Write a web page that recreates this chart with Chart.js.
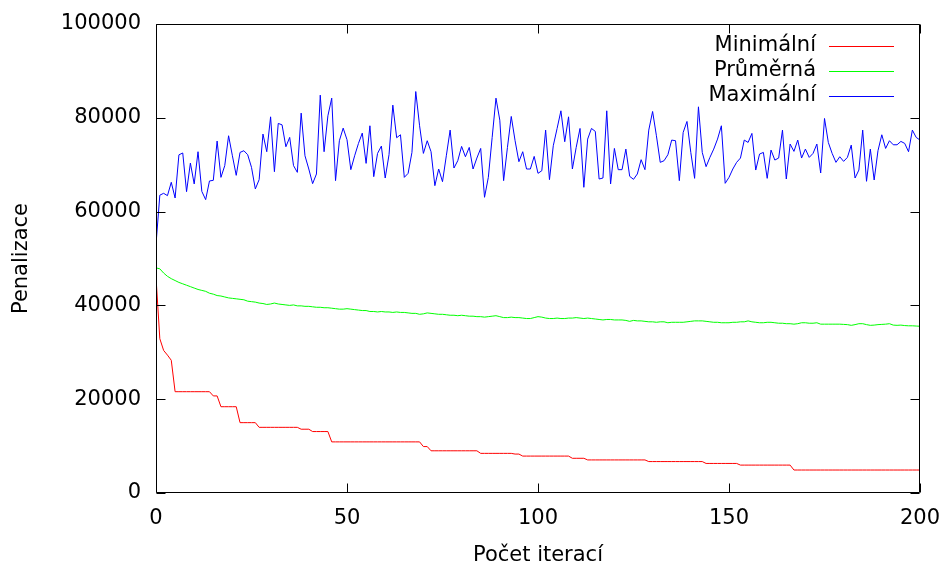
<!DOCTYPE html>
<html>
<head>
<meta charset="utf-8">
<script src="https://cdn.jsdelivr.net/npm/chart.js@4.4.1/dist/chart.umd.min.js"></script>
<style>
  html, body { margin: 0; padding: 0; background: #fff; }
  #wrap { width: 948px; height: 568px; }
</style>
</head>
<body>
<div id="wrap"><canvas id="c" width="948" height="568"></canvas></div>
<script>
// ---- data ----
const seriesNames = ["Minimální", "Průměrná", "Maximální"];
const xTicks = [0, 50, 100, 150, 200];
const yTicks = [0, 20000, 40000, 60000, 80000, 100000];

const minimal = [
  46000, 32900, 30400, 29400, 28300,
  21600, 21600, 21600, 21600, 21600, 21600, 21600, 21600, 21600, 21600,
  20700, 20700,
  18400, 18400, 18400, 18400, 18400,
  15000, 15000, 15000, 15000, 15000,
  14000, 14000, 14000, 14000, 14000, 14000, 14000, 14000, 14000, 14000, 14000,
  13600, 13600, 13600,
  13100, 13100, 13100, 13100, 13100,
  10900, 10900, 10900, 10900, 10900, 10900, 10900, 10900, 10900, 10900, 10900, 10900,
  10900, 10900, 10900, 10900, 10900, 10900, 10900, 10900, 10900, 10900, 10900, 10900,
  9900, 9900,
  9000, 9000, 9000, 9000, 9000, 9000, 9000, 9000, 9000, 9000, 9000, 9000, 9000,
  8450, 8450, 8450, 8450, 8450, 8450, 8450, 8450, 8450,
  8300, 8300,
  7870, 7870, 7870, 7870, 7870, 7870, 7870, 7870, 7870, 7870, 7870, 7870, 7870,
  7400, 7400, 7400, 7400,
  7050, 7050, 7050, 7050, 7050, 7050, 7050, 7050, 7050, 7050, 7050, 7050, 7050, 7050, 7050, 7050,
  6700, 6700, 6700, 6700, 6700, 6700, 6700, 6700, 6700, 6700, 6700, 6700, 6700, 6700, 6700,
  6300, 6300, 6300, 6300, 6300, 6300, 6300, 6300, 6300,
  5950, 5950, 5950, 5950, 5950, 5950, 5950, 5950, 5950, 5950, 5950, 5950, 5950, 5950,
  4900, 4900, 4900, 4900, 4900, 4900, 4900, 4900, 4900, 4900, 4900, 4900, 4900, 4900, 4900, 4900, 4900,
  4900, 4900, 4900, 4900, 4900, 4900, 4900, 4900, 4900, 4900, 4900, 4900, 4900, 4900, 4900, 4900, 4900
];

const average = [
  48000, 47800, 46900, 46200, 45700, 45300, 44900, 44600, 44300, 44000,
  43700, 43400, 43200, 43000, 42600, 42400, 42100, 42000, 41800, 41600,
  41500, 41400, 41300, 41200, 40900, 40800, 40700, 40500, 40400, 40200,
  40300, 40500, 40300, 40200, 40100, 40000, 40100, 39900, 39900, 39800,
  39800, 39700, 39600, 39600, 39500, 39500, 39400, 39300, 39200, 39200,
  39300, 39200, 39100, 39000, 38900, 38900, 38700, 38700, 38600, 38700,
  38600, 38600, 38500, 38600, 38500, 38500, 38400, 38300, 38300, 38100,
  38200, 38400, 38300, 38200, 38100, 38100, 38000, 37900, 37900, 37800,
  37900, 37800, 37700, 37700, 37600, 37600, 37500, 37600, 37700, 37800,
  37600, 37400, 37400, 37500, 37400, 37400, 37300, 37200, 37200, 37400,
  37600, 37500, 37300, 37200, 37200, 37300, 37200, 37200, 37300, 37300,
  37400, 37300, 37200, 37300, 37200, 37100, 37000, 36900, 37000, 37000,
  36900, 36900, 36900, 36800, 36600, 36800, 36700, 36700, 36600, 36500,
  36500, 36400, 36500, 36500, 36300, 36400, 36400, 36400, 36400, 36500,
  36600, 36700, 36700, 36700, 36600, 36500, 36400, 36400, 36300, 36300,
  36300, 36400, 36400, 36500, 36500, 36700, 36500, 36400, 36300, 36300,
  36400, 36400, 36300, 36200, 36200, 36100, 36100, 36000, 36100, 36300,
  36300, 36200, 36200, 36300, 36000, 36000, 36000, 36000, 36000, 36000,
  35950, 35900, 35750, 35900, 36100, 36100, 35900, 35750, 35800, 35900,
  35950, 36000, 36100, 35800, 35750, 35800, 35700, 35650, 35650, 35600,
  35550
];

const maximal = [
  53000, 63500, 63900, 63400, 66250, 62900, 72100, 72500, 64250, 70350,
  65900, 72770, 64300, 62550, 66530, 66670, 75040, 67300, 69800, 76170,
  71900, 67730, 72620, 72980, 72130, 69430, 64830, 66810, 76530, 72770,
  80210, 68510, 78800, 78500, 73830, 75820, 69800, 68370, 81000, 71900,
  69080, 65960, 68020, 84830, 72770, 80430, 84190, 66600, 75110, 77800,
  75320, 68940, 71900, 74540, 76740, 70280, 78300, 67450, 72410, 73970,
  67160, 72130, 82700, 75750, 76380, 67300, 68160, 72620, 85600, 78300,
  72410, 75110, 72770, 65530, 69080, 66380, 71900, 77380, 69290, 70850,
  73900, 71700, 73690, 69080, 71420, 73470, 63050, 67300, 75820, 84190,
  79500, 66600, 73690, 80290, 75110, 70640, 72770, 69080, 69080, 71770,
  68160, 68720, 77380, 66810, 74040, 77730, 81490, 74900, 80210, 69080,
  73690, 77730, 65180, 75460, 77730, 77100, 66950, 67160, 81490, 65890,
  73470, 68940, 68940, 73330, 67520, 66880, 68020, 71070, 68940, 77380,
  81350, 76170, 70500, 70850, 72130, 75250, 75110, 66600, 76880, 79220,
  72620, 67090, 82340, 72620, 69580, 71560, 73330, 75460, 78300, 66030,
  67300, 69080, 70500, 71420, 75250, 74750, 76670, 68860, 72270, 72620,
  67090, 73120, 70990, 71420, 77380, 66950, 74400, 72840, 75250, 71420,
  73330, 71560, 72410, 74400, 68230, 79860, 74750, 72410, 70500, 71700,
  70710, 71560, 74180, 67160, 68860, 77380, 66460, 73330, 66740, 72980,
  76380, 73470, 75110, 74250, 74250, 74970, 74540, 72770, 77380, 75820,
  75250
];

const iterations = maximal.map((_, i) => i);
const colors = ["#ff0000", "#00ff00", "#0000ff"];

const toXY = arr => arr.map((v, i) => ({ x: iterations[i], y: v }));

const FONT = "DejaVu Sans";
const FS = 21;

// gnuplot-like frame with inward mirrored ticks and key
const frame = {
  id: "frame",
  afterDraw(chart) {
    const { ctx, chartArea: a, scales } = chart;
    const x = scales.x, y = scales.y;
    ctx.save();
    ctx.strokeStyle = "#000";
    ctx.lineWidth = 1;
    ctx.beginPath();
    const L = Math.round(a.left) + 0.5, R = Math.round(a.right) - 0.5;
    const T = Math.round(a.top) + 0.5, B = Math.round(a.bottom) - 0.5;
    ctx.rect(L, T, R - L, B - T);
    yTicks.forEach(v => {
      const py = Math.round(y.getPixelForValue(v)) + 0.5;
      ctx.moveTo(L, py); ctx.lineTo(L + 9, py);
      ctx.moveTo(R, py); ctx.lineTo(R - 9, py);
    });
    xTicks.forEach(v => {
      const px = Math.round(x.getPixelForValue(v)) + 0.5;
      ctx.moveTo(px, B); ctx.lineTo(px, B - 9);
      ctx.moveTo(px, T); ctx.lineTo(px, T + 9);
    });
    ctx.stroke();

    ctx.font = FS + "px '" + FONT + "'";
    ctx.textAlign = "right";
    ctx.textBaseline = "middle";
    const keyY = [46, 71, 96];
    seriesNames.forEach((name, i) => {
      ctx.fillStyle = "#000";
      ctx.fillText(name, 816, keyY[i]);
      ctx.strokeStyle = colors[i];
      ctx.beginPath();
      ctx.moveTo(829, keyY[i] + 0.5);
      ctx.lineTo(894, keyY[i] + 0.5);
      ctx.stroke();
    });
    ctx.restore();
  }
};

Chart.defaults.font.family = FONT;
Chart.defaults.font.size = FS;
Chart.defaults.color = "#000";

new Chart(document.getElementById("c"), {
  type: "line",
  data: {
    datasets: [
      { label: seriesNames[0], data: toXY(minimal), borderColor: colors[0], order: 2 },
      { label: seriesNames[1], data: toXY(average), borderColor: colors[1], order: 1 },
      { label: seriesNames[2], data: toXY(maximal), borderColor: colors[2], order: 0 }
    ].map(d => Object.assign(d, { borderWidth: 1, pointRadius: 0, tension: 0, fill: false }))
  },
  options: {
    responsive: false,
    animation: false,
    events: [],
    layout: { padding: { top: 24, right: 28, left: 0, bottom: 0 } },
    plugins: { legend: { display: false }, tooltip: { enabled: false } },
    scales: {
      x: {
        type: "linear",
        min: 0, max: 200,
        afterBuildTicks: s => { s.ticks = xTicks.map(v => ({ value: v })); },
        afterFit: s => { s.height = 75; },
        grid: { display: false, drawTicks: false },
        border: { display: false },
        ticks: { padding: 6, maxRotation: 0, font: { size: FS, lineHeight: 1.9 } },
        title: { display: true, text: "Počet iterací", font: { size: FS }, padding: { top: 0, bottom: 0 } }
      },
      y: {
        type: "linear",
        min: 0, max: 100000,
        afterBuildTicks: s => { s.ticks = yTicks.map(v => ({ value: v })); },
        afterFit: s => { s.width = 156; },
        grid: { display: false, drawTicks: false },
        border: { display: false },
        ticks: { padding: 15, font: { size: FS, lineHeight: 0.8 }, callback: v => String(v) },
        title: { display: true, text: "Penalizace", font: { size: FS }, padding: { top: 9, bottom: 0 } }
      }
    }
  },
  plugins: [frame]
});
</script>
</body>
</html>
